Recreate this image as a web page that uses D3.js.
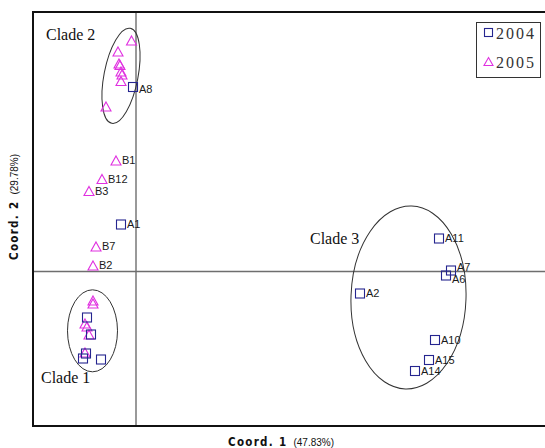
<!DOCTYPE html>
<html>
<head>
<meta charset="utf-8">
<script src="https://cdn.jsdelivr.net/npm/d3@7"></script>
<style>
  html, body { margin: 0; padding: 0; background: #fff; }
  svg { display: block; }
</style>
</head>
<body>
<svg id="chart" width="545" height="448"></svg>
<script>
// PCoA coordinates (Coord. 1, Coord. 2) for each sample, by year
const labels2004 = ["A8", "A1", "A11", "A7", "A6", "A2", "A10", "A15", "A14", "", "", "", "", ""];
const coord1_2004 = [-0.03, -0.15, 3.03, 3.15, 3.10, 2.24, 2.99, 2.93, 2.79, -0.49, -0.45, -0.50, -0.53, -0.35];
const coord2_2004 = [1.845, 0.47, 0.33, 0.01, -0.04, -0.22, -0.685, -0.885, -0.995, -0.46, -0.63, -0.82, -0.87, -0.88];

const labels2005 = ["", "", "", "", "", "", "", "", "B1", "B12", "B3", "B7", "B2", "", "", "", "", "", ""];
const coord1_2005 = [-0.045, -0.18, -0.17, -0.16, -0.15, -0.14, -0.15, -0.30, -0.20, -0.34, -0.47, -0.40, -0.43, -0.43, -0.43, -0.51, -0.49, -0.47, -0.51];
const coord2_2005 = [2.31, 2.20, 2.08, 2.065, 2.00, 1.97, 1.905, 1.65, 1.11, 0.925, 0.805, 0.25, 0.06, -0.29, -0.32, -0.52, -0.55, -0.63, -0.81];

// Cluster ellipses: centre, semi-axes (in coordinate units), tilt in degrees
const cladeNames = ["Clade 1", "Clade 2", "Clade 3"];
const cladeCx = [-0.435, -0.15, 2.725];
const cladeCy = [-0.593, 1.957, -0.26];
const cladeRx = [0.25, 0.17, 0.575];
const cladeRy = [0.41, 0.484, 0.915];
const cladeTilt = [0, 11, 2];

const years = ["2004", "2005"];
const axisTitles = [["Coord. 1", "(47.83%)"], ["Coord. 2", "(29.78%)"]];

const svg = d3.select("#chart");
const frame = { left: 33, top: 12, right: 547, bottom: 426 };

const x = d3.scaleLinear().domain([-1.03, 4.11]).range([frame.left, frame.right]);
const y = d3.scaleLinear().domain([-1.545, 2.595]).range([frame.bottom, frame.top]);

const blue = "#25258f";
const magenta = "#e030e0";

// zero lines
svg.append("line")
  .attr("x1", x(0)).attr("x2", x(0))
  .attr("y1", frame.top).attr("y2", frame.bottom)
  .attr("stroke", "#6e6e6e").attr("stroke-width", 1.4);
svg.append("line")
  .attr("x1", frame.left).attr("x2", frame.right)
  .attr("y1", y(0)).attr("y2", y(0))
  .attr("stroke", "#6e6e6e").attr("stroke-width", 1.4);

// plot frame
svg.append("rect")
  .attr("x", frame.left).attr("y", frame.top)
  .attr("width", frame.right - frame.left).attr("height", frame.bottom - frame.top)
  .attr("fill", "none").attr("stroke", "#111").attr("stroke-width", 2);

// clade ellipses
const clades = cladeNames.map((n, i) => ({ name: n, cx: cladeCx[i], cy: cladeCy[i], rx: cladeRx[i], ry: cladeRy[i], tilt: cladeTilt[i] }));
svg.append("g").selectAll("ellipse").data(clades).join("ellipse")
  .attr("transform", d => `translate(${x(d.cx)},${y(d.cy)}) rotate(${d.tilt})`)
  .attr("rx", d => x(d.rx) - x(0))
  .attr("ry", d => y(0) - y(d.ry))
  .attr("fill", "none").attr("stroke", "#333").attr("stroke-width", 1);

// clade names
const cladeLabelPos = { "Clade 1": [41, 383], "Clade 2": [46, 40], "Clade 3": [310, 244] };
svg.append("g").selectAll("text").data(clades).join("text")
  .attr("x", d => cladeLabelPos[d.name][0])
  .attr("y", d => cladeLabelPos[d.name][1])
  .attr("font-family", "'Liberation Serif', 'Times New Roman', serif")
  .attr("font-size", 16)
  .attr("fill", "#111")
  .text(d => d.name);

const pts2004 = coord1_2004.map((v, i) => ({ x: v, y: coord2_2004[i], label: labels2004[i] }));
const pts2005 = coord1_2005.map((v, i) => ({ x: v, y: coord2_2005[i], label: labels2005[i] }));

const triPath = "M0,-4.5L5,4.5L-5,4.5Z";

svg.append("g").selectAll("path").data(pts2005).join("path")
  .attr("transform", d => `translate(${x(d.x)},${y(d.y)})`)
  .attr("d", triPath)
  .attr("fill", "none").attr("stroke", magenta).attr("stroke-width", 1.1);

svg.append("g").selectAll("rect").data(pts2004).join("rect")
  .attr("x", d => x(d.x) - 4.5).attr("y", d => y(d.y) - 4.5)
  .attr("width", 9).attr("height", 9)
  .attr("fill", "none").attr("stroke", blue).attr("stroke-width", 1.1);

// sample labels, nudged where two labels would collide
const nudge = { "A7": -3.5, "A6": 4, "A8": 2 };
const labelled = pts2004.concat(pts2005).filter(d => d.label);
svg.append("g").selectAll("text").data(labelled).join("text")
  .attr("x", d => x(d.x) + 6)
  .attr("y", d => y(d.y) + (nudge[d.label] || 0))
  .attr("dy", "0.36em")
  .attr("font-family", "'Liberation Sans', Arial, sans-serif")
  .attr("font-size", 11)
  .attr("fill", "#1a1a1a")
  .text(d => d.label);

// legend
const legend = svg.append("g");
legend.append("rect")
  .attr("x", 476.5).attr("y", 22.5).attr("width", 64).attr("height", 55)
  .attr("fill", "#fff").attr("stroke", "#333").attr("stroke-width", 1);
years.forEach((yr, i) => {
  const cy = 32.5 + i * 29;
  if (i === 0) {
    legend.append("rect").attr("x", 484.5).attr("y", cy - 4).attr("width", 8).attr("height", 8)
      .attr("fill", "none").attr("stroke", blue).attr("stroke-width", 1.1);
  } else {
    legend.append("path").attr("transform", `translate(488.5,${cy})`).attr("d", "M0,-4L4.5,4L-4.5,4Z")
      .attr("fill", "none").attr("stroke", magenta).attr("stroke-width", 1.1);
  }
  legend.append("text")
    .attr("x", 496).attr("y", cy + 1).attr("dy", "0.36em")
    .attr("font-family", "'Liberation Serif', 'Times New Roman', serif")
    .attr("font-size", 16)
    .attr("textLength", 38).attr("lengthAdjust", "spacing")
    .attr("fill", "#333")
    .text(yr);
});

// axis titles
function axisTitle(g, parts) {
  const t = g.append("text").attr("text-anchor", "middle").attr("fill", "#111");
  t.append("tspan")
    .attr("font-family", "'DejaVu Sans Condensed', 'Liberation Sans Narrow', sans-serif")
    .attr("font-weight", "bold").attr("font-size", 11.5)
    .attr("letter-spacing", "1.3px")
    .text(parts[0]);
  t.append("tspan")
    .attr("dx", 6)
    .attr("font-family", "'Liberation Sans', Arial, sans-serif")
    .attr("font-size", 10)
    .text(parts[1]);
  return t;
}
axisTitle(svg.append("g").attr("transform", "translate(281,446)"), axisTitles[0]);
axisTitle(svg.append("g").attr("transform", "translate(18,207) rotate(-90)"), axisTitles[1]);
</script>
</body>
</html>
